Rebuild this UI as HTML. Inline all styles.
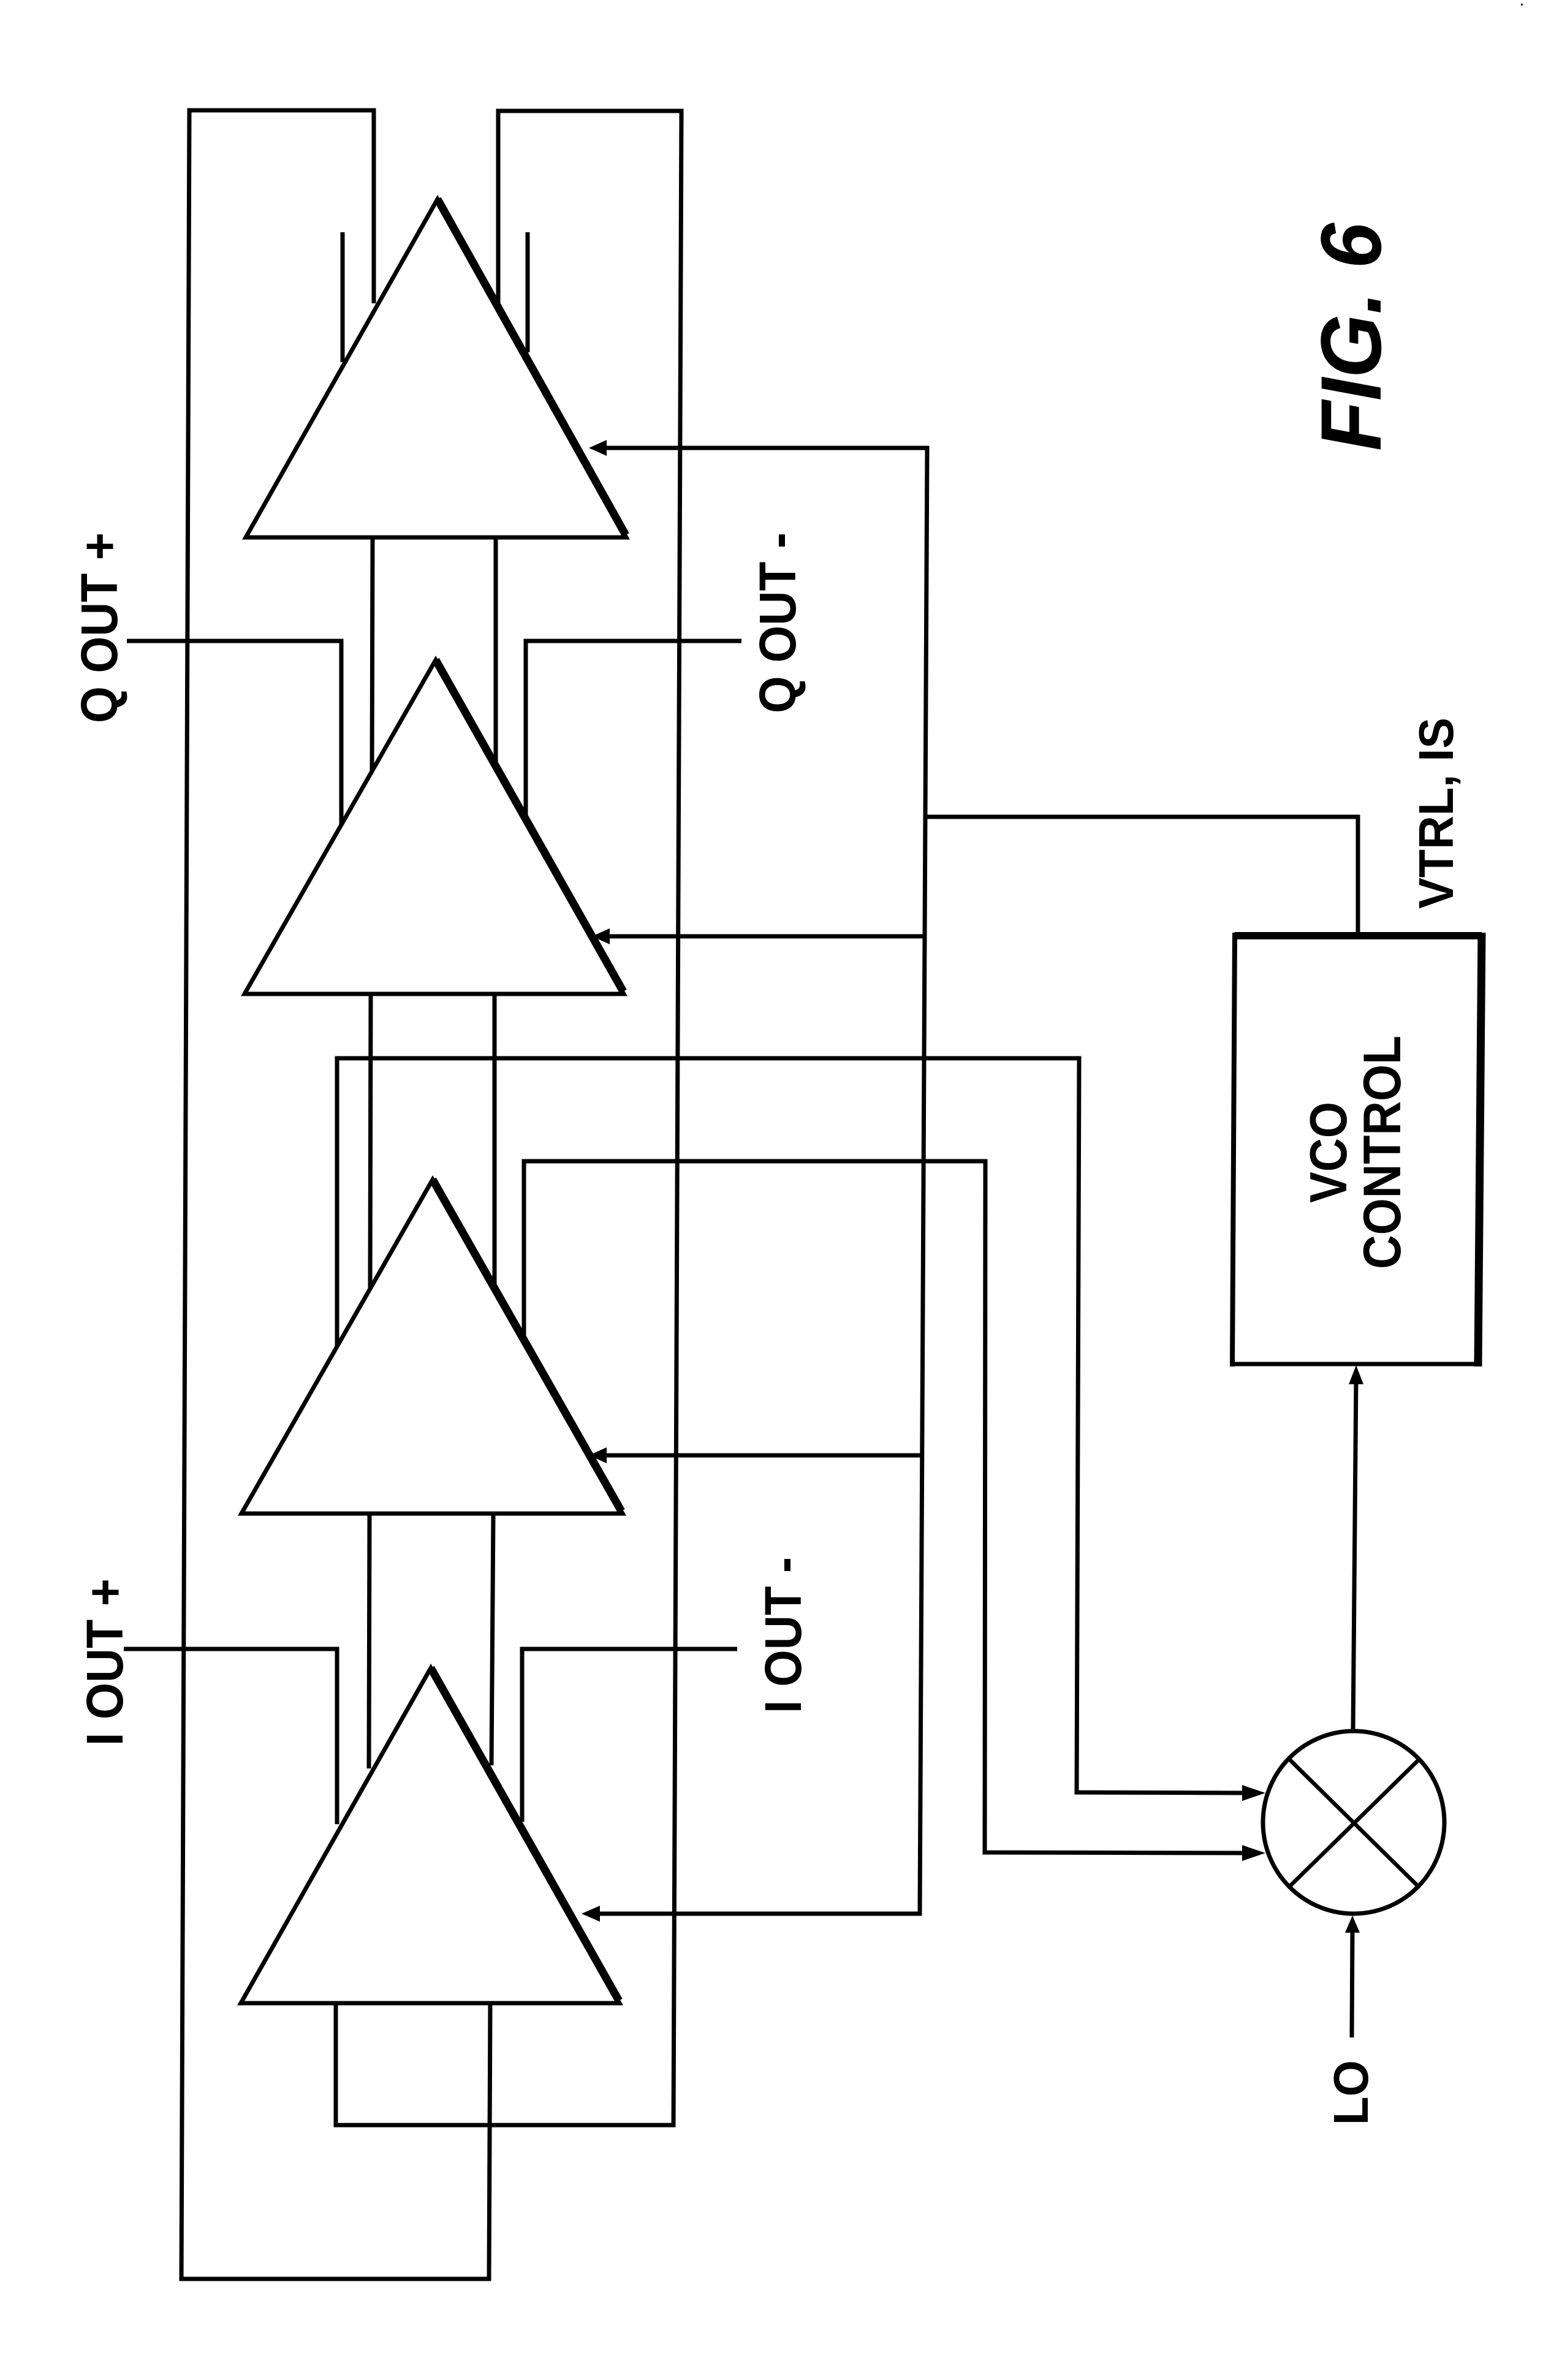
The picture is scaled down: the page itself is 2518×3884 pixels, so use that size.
<!DOCTYPE html>
<html><head><meta charset="utf-8"><style>
html,body{margin:0;padding:0;background:#fff}
svg{display:block}
text{font-family:"Liberation Sans",sans-serif;font-weight:bold;fill:#000}
</style></head><body>
<svg width="2518" height="3884" viewBox="0 0 2518 3884" xmlns="http://www.w3.org/2000/svg">
<rect width="2518" height="3884" fill="#fff"/>
<g fill="none" stroke="#000" stroke-width="7" stroke-linejoin="miter">
<!-- outer rails -->
<polyline points="610,495 610,180 309,180 296,3719 798,3719 800,3269"/>
<polyline points="813,495 813,181 1112,181 1099,3468 548,3468 548,3269"/>
<!-- stubs triangle 1 -->
<line x1="559" y1="379" x2="559" y2="591"/>
<line x1="861" y1="379" x2="861" y2="575"/>
<!-- between triangles -->
<line x1="608" y1="877" x2="607" y2="1257"/>
<line x1="809" y1="877" x2="809" y2="1251"/>
<line x1="605" y1="1622" x2="604" y2="2103"/>
<line x1="807" y1="1622" x2="807" y2="2102"/>
<line x1="603" y1="2470" x2="602" y2="2886"/>
<line x1="805" y1="2470" x2="802" y2="2881"/>
<!-- Q OUT -->
<polyline points="207,1046 557,1046 557,1346"/>
<polyline points="1210,1046 858,1046 858,1338"/>
<!-- I OUT -->
<polyline points="202,2691 550,2691 550,2977"/>
<polyline points="1203,2691 852,2691 852,2973"/>
<!-- feedback to mixer -->
<polyline points="550,2197 550,1727 1761,1727 1757,2925 2035,2926"/>
<polyline points="855,2186 855,1895 1608,1895 1607,3023 2035,3024"/>
<!-- control bus -->
<polyline points="985,731 1513,731 1501,3123 975,3123"/>
<line x1="990" y1="1528" x2="1511" y2="1528"/>
<line x1="985" y1="2375" x2="1505" y2="2375"/>
<polyline points="1511,1333 2216,1333 2216,1527"/>
<!-- VCO to mixer -->
<line x1="2213" y1="2250" x2="2208" y2="2825"/>
<line x1="2207" y1="3150" x2="2206" y2="3325"/>
<!-- triangles -->
<polygon points="714,325 401,877 1022,877" fill="#fff"/>
<line x1="714" y1="325" x2="1021" y2="873" stroke-width="13"/>
<polygon points="711,1077 399,1622 1018,1622" fill="#fff"/>
<line x1="711" y1="1077" x2="1017" y2="1618" stroke-width="13"/>
<polygon points="706,1925 394,2470 1016,2470" fill="#fff"/>
<line x1="706" y1="1925" x2="1014" y2="2466" stroke-width="13"/>
<polygon points="703,2722 393,3269 1011,3269" fill="#fff"/>
<line x1="703" y1="2722" x2="1010" y2="3265" stroke-width="13"/>
<!-- box -->
<line x1="2015" y1="1527" x2="2418" y2="1527" stroke-width="12"/>
<line x1="2015" y1="1522" x2="2011" y2="2230" stroke-width="8"/>
<line x1="2008" y1="2226" x2="2418" y2="2226" stroke-width="7"/>
<line x1="2418" y1="1522" x2="2412" y2="2230" stroke-width="13"/>
<!-- mixer -->
<ellipse cx="2209" cy="2974" rx="148" ry="149" fill="#fff"/>
<line x1="2105" y1="2872" x2="2314" y2="3078" stroke-width="6.5"/>
<line x1="2314" y1="2873" x2="2105" y2="3078" stroke-width="6.5"/>
</g>
<!-- arrowheads -->
<g fill="#000">
<polygon points="961,731 990,718 990,744"/>
<polygon points="966,1528 995,1515 995,1541"/>
<polygon points="961,2375 990,2362 990,2388"/>
<polygon points="949,3123 979,3110 979,3136"/>
<polygon points="2065,2926 2027,2913 2027,2939"/>
<polygon points="2065,3024 2027,3011 2027,3037"/>
<polygon points="2213,2228 2201,2259 2225,2259"/>
<polygon points="2207,3126 2195,3154 2219,3154"/>
<rect x="2482" y="6" width="3" height="3"/>
</g>
<!-- labels -->
<g>
<text transform="translate(191,1180) rotate(-90)" font-size="84" textLength="311" lengthAdjust="spacingAndGlyphs">Q OUT +</text>
<text transform="translate(1298,1164) rotate(-90)" font-size="84" textLength="295" lengthAdjust="spacingAndGlyphs">Q OUT -</text>
<text transform="translate(200,2849) rotate(-90)" font-size="84" textLength="273" lengthAdjust="spacingAndGlyphs">I OUT +</text>
<text transform="translate(1307,2796) rotate(-90)" font-size="84" textLength="255" lengthAdjust="spacingAndGlyphs">I OUT -</text>
<text transform="translate(2197,1963) rotate(-90)" font-size="85" textLength="165" lengthAdjust="spacingAndGlyphs">VCO</text>
<text transform="translate(2285,2071) rotate(-90)" font-size="86" textLength="381" lengthAdjust="spacingAndGlyphs">CONTROL</text>
<text transform="translate(2371,1483) rotate(-90)" font-size="80" textLength="312" lengthAdjust="spacingAndGlyphs">VTRL, IS</text>
<text transform="translate(2232,3468) rotate(-90)" font-size="80" textLength="106" lengthAdjust="spacingAndGlyphs">LO</text>
<text transform="translate(2253,736) rotate(-90)" font-size="140" font-style="italic" textLength="372" lengthAdjust="spacingAndGlyphs">FIG. 6</text>
</g>
</svg>
</body></html>
